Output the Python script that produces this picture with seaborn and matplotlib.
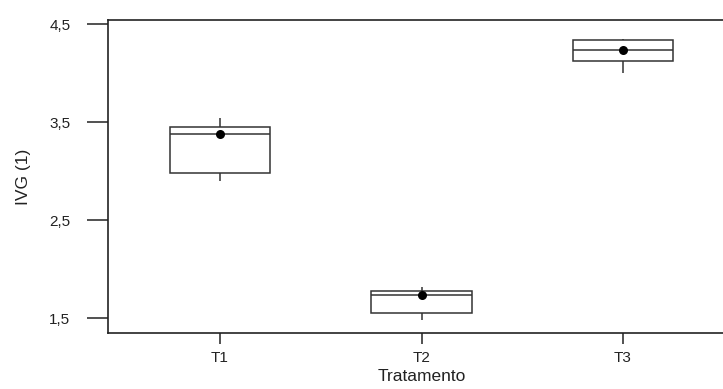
import pandas as pd
import matplotlib.pyplot as plt
import seaborn as sns
import numpy as np

# Data
treatments = ['T1', 'T2', 'T3']
t1_values = [2.90, 2.98, 3.38, 3.45, 3.54]
t2_values = [1.48, 1.555, 1.735, 1.78, 1.82]
t3_values = [4.00, 4.12, 4.235, 4.335, 4.35]
means = [3.38, 1.735, 4.235]
y_ticks = [1.5, 2.5, 3.5, 4.5]
y_tick_labels = ['1,5', '2,5', '3,5', '4,5']

df = pd.DataFrame({
    'Tratamento': ['T1'] * len(t1_values) + ['T2'] * len(t2_values) + ['T3'] * len(t3_values),
    'IVG': t1_values + t2_values + t3_values,
})
df_mean = pd.DataFrame({'Tratamento': treatments, 'IVG': means})

sns.set_theme(style='white')
plt.rcParams['font.family'] = ['Liberation Sans', 'DejaVu Sans']

fig = plt.figure(figsize=(7.23, 3.89), dpi=100)
# axes run past the right edge, like the cropped reference
ax = fig.add_axes([108 / 723, 1 - 333 / 389, 642 / 723, 313 / 389])

line_col = '#333333'
sns.boxplot(data=df, x='Tratamento', y='IVG', order=treatments, width=0.5,
            color='white', linecolor=line_col, linewidth=1.1, showcaps=False,
            fliersize=0, ax=ax)
sns.stripplot(data=df_mean, x='Tratamento', y='IVG', order=treatments,
              jitter=False, color='black', size=6.5, ax=ax)

ax.set_xlim(-0.556, 2.630)
ax.set_ylim(1.347, 4.541)
ax.set_yticks(y_ticks)
ax.set_yticklabels(y_tick_labels)

for side in ['top', 'left', 'bottom']:
    ax.spines[side].set_visible(True)
    ax.spines[side].set_color('#222222')
    ax.spines[side].set_linewidth(1.2)
ax.spines['right'].set_visible(False)

ax.tick_params(axis='y', direction='out', length=15, width=1.1, color='#222222',
               pad=12, labelsize=11, labelcolor='#222222', left=True)
ax.tick_params(axis='x', direction='out', length=8, width=1.1, color='#222222',
               pad=5, labelsize=11, labelcolor='#222222', bottom=True)

ax.set_xlabel('Tratamento', fontsize=12.5, color='#222222')
ax.set_ylabel('IVG (1)', fontsize=12.5, color='#222222')
ax.xaxis.set_label_coords((421.7 - 108) / 642, -0.115)
ax.yaxis.set_label_coords(-0.12, 0.5)

fig.savefig('out.png', dpi=100)
